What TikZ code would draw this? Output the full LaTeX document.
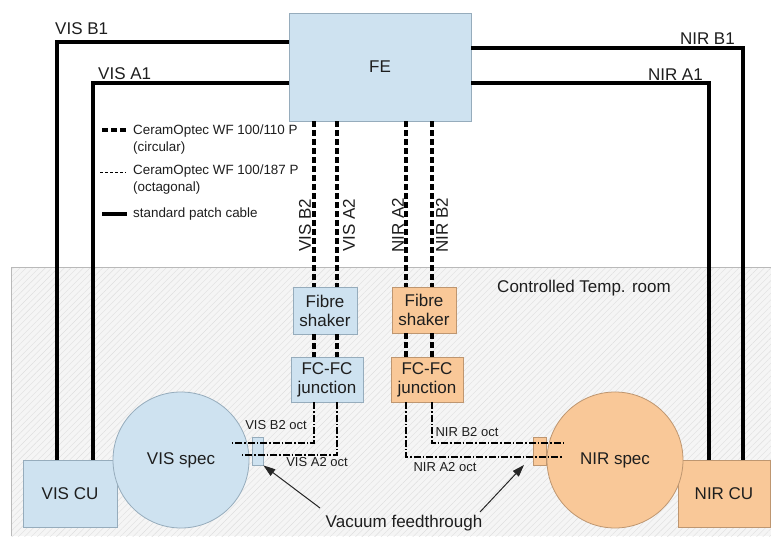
\documentclass[tikz,border=0pt]{standalone}
\usepackage{fontspec}
\setmainfont{Liberation Sans}
\usetikzlibrary{patterns.meta,arrows.meta}
\definecolor{bfill}{RGB}{206,226,240}
\definecolor{bdraw}{RGB}{150,172,188}
\definecolor{ofill}{RGB}{249,200,152}
\definecolor{odraw}{RGB}{190,150,112}
\definecolor{txt}{RGB}{30,30,30}
\definecolor{roomfill}{RGB}{245,245,245}
\definecolor{roomhatch}{RGB}{222,222,222}
\definecolor{roomdraw}{RGB}{185,185,185}
\tikzset{
 bx/.style={draw=bdraw, fill=bfill, line width=0.8pt, text=txt, align=center, inner sep=0pt, font=\fontsize{17}{19}\selectfont},
 ox/.style={bx, draw=odraw, fill=ofill},
 cable/.style={line width=3.3pt, black},
 circf/.style={line width=3.4pt, dash pattern=on 6pt off 3pt},
 octf/.style={line width=1.1pt, dash pattern=on 7pt off 2pt on 1.5pt off 2pt},
 lbl/.style={text=txt, font=\fontsize{17}{19}\selectfont, inner sep=0pt},
 sml/.style={text=txt, font=\fontsize{13}{15}\selectfont, inner sep=0pt},
 leg/.style={text=txt, font=\fontsize{13.4}{17}\selectfont, inner sep=0pt, align=left, anchor=north west},
 arr/.style={line width=1pt, black!85, -{Triangle[length=12pt,width=8pt]}},
}
\begin{document}
\begin{tikzpicture}[x=1pt,y=-1pt]
\useasboundingbox (0,0) rectangle (771,536);
\fill[white] (0,0) rectangle (771,536);
% room
\fill[roomfill] (11,267) rectangle (771,536);
\fill[pattern={Lines[angle=45,distance=4.5pt,line width=0.4pt]}, pattern color=roomhatch] (11,267) rectangle (771,536);
\draw[roomdraw, line width=0.8pt] (11,536) -- (11,267) -- (771,267);
\node[lbl] (room) at (584,288) {Controlled Temp. room};

% boxes
\node[bx, minimum width=182pt, minimum height=108pt] (FE) at (380,67) {FE};
\node[bx, minimum width=94pt, minimum height=67pt] (VISCU) at (70,493.5) {VIS CU};
\node[ox, minimum width=92pt, minimum height=67pt] (NIRCU) at (724,493.5) {NIR CU};
\node[bx, minimum width=64pt, minimum height=47pt] (VISsh) at (325,310.5) {Fibre\\shaker};
\node[bx, minimum width=72pt, minimum height=45pt] (VISjc) at (327,379.5) {FC-FC\\junction};
\node[ox, minimum width=64pt, minimum height=46pt] (NIRsh) at (424,310) {Fibre\\shaker};
\node[ox, minimum width=72pt, minimum height=45pt] (NIRjc) at (427,379.5) {FC-FC\\junction};
\node[bx, circle, minimum size=136pt] (VISsp) at (181,460) {VIS spec};
\node[ox, circle, minimum size=136pt] (NIRsp) at (615,460) {NIR spec};
\node[bx, minimum width=11pt, minimum height=28pt] (VISft) at (257.5,451) {};
\node[ox, minimum width=13pt, minimum height=28pt] (NIRft) at (539.5,451) {};

% patch cables
\coordinate (vb1) at (57,42);
\coordinate (va1) at (93,83);
\coordinate (nb1) at (743,48);
\coordinate (na1) at (709,83);
\draw[cable] (FE.west |- vb1) -| (VISCU.north -| vb1);
\draw[cable] (FE.west |- va1) -| (VISCU.north -| va1);
\draw[cable] (FE.east |- nb1) -| (NIRCU.north -| nb1);
\draw[cable] (FE.east |- na1) -| (NIRCU.north -| na1);
\node[lbl, anchor=base west] (lvb1) at (55,34) {VIS B1};
\node[lbl, anchor=base west] (lva1) at (98,79) {VIS A1};
\node[lbl, anchor=base east] (lnb1) at (735,44) {NIR B1};
\node[lbl, anchor=base east] (lna1) at (703,80) {NIR A1};

% circular fibres
\coordinate (xvb) at (314,0);
\coordinate (xva) at (337,0);
\coordinate (xna) at (406,0);
\coordinate (xnb) at (432,0);
\foreach \c/\s/\j in {xvb/VISsh/VISjc, xva/VISsh/VISjc, xna/NIRsh/NIRjc, xnb/NIRsh/NIRjc}{
  \draw[circf] (FE.south -| \c) -- (\s.north -| \c);
  \draw[circf] (\s.south -| \c) -- (\j.north -| \c);
}
\node[lbl, rotate=90] (lvb2) at (305,225) {VIS B2};
\node[lbl, rotate=90] (lva2) at (349,225) {VIS A2};
\node[lbl, rotate=90] (lna2) at (398,225) {NIR A2};
\node[lbl, rotate=90] (lnb2) at (442,225) {NIR B2};

% octagonal fibres
\coordinate (vb2e) at (232,443);
\coordinate (va2e) at (242,455);
\coordinate (na2e) at (563,457);
\coordinate (nb2e) at (564,443);
\draw[octf] (VISjc.south -| xvb) |- (vb2e);
\draw[octf] (VISjc.south -| xva) |- (va2e);
\draw[octf] (NIRjc.south -| xna) |- (na2e);
\draw[octf] (NIRjc.south -| xnb) |- (nb2e);
\node[sml] (lvb2o) at (276,425) {VIS B2 oct};
\node[sml] (lva2o) at (317,462) {VIS A2 oct};
\node[sml] (lnb2o) at (467,432) {NIR B2 oct};
\node[sml] (lna2o) at (445,467) {NIR A2 oct};

% vacuum feedthrough
\node[lbl] (vac) at (404,523) {Vacuum feedthrough};
\coordinate (va0) at (320,508);
\coordinate (na0) at (480,512);
\coordinate (nfa) at (524,465);
\draw[arr] (va0) -- (VISft.south east);
\draw[arr] (na0) -- (nfa);

% legend
\draw[circf] (102,130) -- (127,130);
\draw[line width=1pt, dash pattern=on 3pt off 2pt] (100,172) -- (126,172);
\draw[cable] (102,214) -- (127,214);
\node[leg] (leg1) at (133,125) {CeramOptec WF 100/110 P\\(circular)};
\node[leg] (leg2) at (133,165) {CeramOptec WF 100/187 P\\(octagonal)};
\node[leg] (leg3) at (133,208) {standard patch cable};
\end{tikzpicture}
\end{document}
